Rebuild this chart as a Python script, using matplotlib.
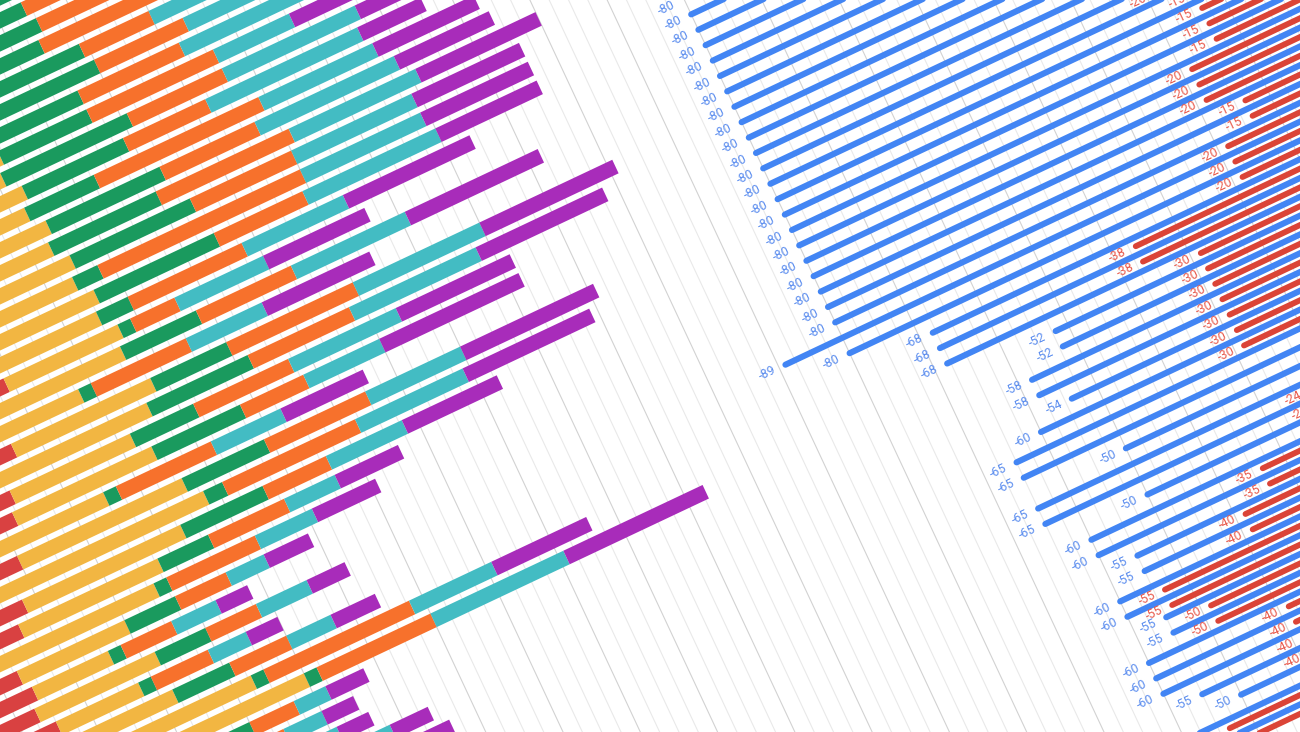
import numpy as np
import matplotlib
matplotlib.use("Agg")
import matplotlib.pyplot as plt
from matplotlib.transforms import Affine2D

# ---- left chart: stacked bars (one value per series and row) ----
left_rows = list(range(-10, 38))
red    = [28,30,29,31,32,33,32,34,35,34,36,35,37,36,38,37,38,36,49,38,36,46,37,43,42,35,40,33,38,36,29,33,34,33,35,34,36,35,34,33,35,34,33,35,34,33,36,34]
yellow = [24,24,26,26,24,25,27,26,27,27,27,27,27,27,27,27,28,29,18,28,22,22,29,19,22,20,26,35,25,22,27,17,12,19,13,18,27,35,16,16,17,18,22,17,22,18,19,20]
green  = [20,20,19,18,18,21,21,16,14,20,16,11,18,17,19,4,19,5,2,12,2,12,16,10,14,2,13,3,13,8,2,8,2,8,2,9,2,2,10,8,7,8,3,10,2,11,10,3]
orange = [18,17,18,15,19,11,14,16,20,15,13,26,15,21,16,32,14,18,7,15,15,20,16,15,10,15,16,21,10,12,14,8,8,8,9,9,23,18,7,7,7,10,11,10,13,8,10,13]
teal   = [18,19,19,19,19,20,19,22,12,21,24,18,22,20,19,19,21,16,14,18,12,20,20,17,12,11,15,17,12,8,9,6,7,8,6,7,13,21,5,6,5,8,9,7,10,8,8,9]
purple = [16,17,18,17,18,18,18,19,19,15,10,16,15,19,17,17,16,20,16,21,17,21,20,18,22,13,21,20,15,10,10,7,5,6,5,7,15,22,6,5,5,6,8,6,7,6,7,7]

# ---- right chart: floating bars with start labels ----
blue_rows = list(range(0, 54))
blue_start = [-80]*22 + [-89, -80, -68, -68, -68, -52, -52, -58, -58, -54, -60, -65, -65, -50,
              -65, -65, -50, -60, -60, -55, -55, -60, -60, -55, -55, -60, -60, -60, -55, -50, -60, -60]
red_rows = [11, 12, 13, 14, 15, 16, 17, 18, 19, 20, 21, 22, 23, 24, 25, 26, 27, 28, 29, 30, 31, 32,
            36, 37, 39, 40, 41, 42, 43, 44, 45, 46, 47, 48, 49, 50, 52, 53]
red_start = [-20, -15, -15, -15, -15, -20, -20, -20, -15, -15, -20, -20, -20, -38, -38,
             -30, -30, -30, -30, -30, -30, -30, -24, -24, -35, -35, -40, -40, -55, -55, -50, -50,
             -40, -40, -40, -40, -55, -55]
x_max = 30
last_labeled_row = 51   # rows below this run off the bottom edge

stack_colors = ["#d94141", "#f2b642", "#1a9a5e", "#f7712c", "#43bcc3", "#a82cba"]
BLUE = "#4285f4"
RED = "#db4437"
ANGLE = 25.3

fig = plt.figure(figsize=(13, 7.32), dpi=100)
ax = fig.add_axes([0, 0, 1, 1])
ax.set_xlim(0, 1300)
ax.set_ylim(732, 0)
ax.axis("off")

# tilted planes for the two charts (value axis along the bars, rows across)
plane_right = Affine2D.from_values(6.33, -2.99, 7.2, 15.4, 1190.4, -240.2)
tr_right = plane_right + ax.transData
tr_red = plane_right + Affine2D().translate(9.5, -4.5) + ax.transData
tr_left = Affine2D.from_values(6.33, -2.99, 8.81, 18.83, -374, 381) + ax.transData

# grid
grid_x = np.arange(-250, 10, 2.5)
for i, gx in enumerate(grid_x):
    c = "#d2d2d2" if i % 4 == 0 else "#e9e9e9"
    ax.plot([gx, gx], [-40, 80], color=c, lw=0.8, transform=tr_right, zorder=0)

# stacked bars
base = np.zeros(len(left_rows))
for vals, col in zip([red, yellow, green, orange, teal, purple], stack_colors):
    ax.barh(left_rows, vals, left=base, height=0.72, color=col, lw=0,
            transform=tr_left, zorder=2)
    base = base + np.array(vals)

# blue bars + labels
ax.hlines(blue_rows, blue_start, x_max, colors=BLUE, lw=4.4, capstyle="round",
          transform=tr_right, zorder=3)
for r, v in zip(blue_rows, blue_start):
    if r > last_labeled_row:
        continue
    ax.text(v - 1.6, r, str(v), transform=tr_right, rotation=ANGLE, rotation_mode="anchor",
            ha="right", va="center", fontsize=9, color="#5b8def", family="Roboto", zorder=4)

# red bars + labels (sit between blue rows)
red_pos = np.array(red_rows) + 0.5
ax.hlines(red_pos, red_start, x_max, colors=RED, lw=4.2, capstyle="round",
          transform=tr_red, zorder=3)
for r, v in zip(red_pos, red_start):
    if r > last_labeled_row:
        continue
    ax.text(v - 1.6, r, str(v), transform=tr_red, rotation=ANGLE, rotation_mode="anchor",
            ha="right", va="center", fontsize=9, color="#e8594b", family="Roboto", zorder=4)

fig.savefig("out.png", dpi=100)
